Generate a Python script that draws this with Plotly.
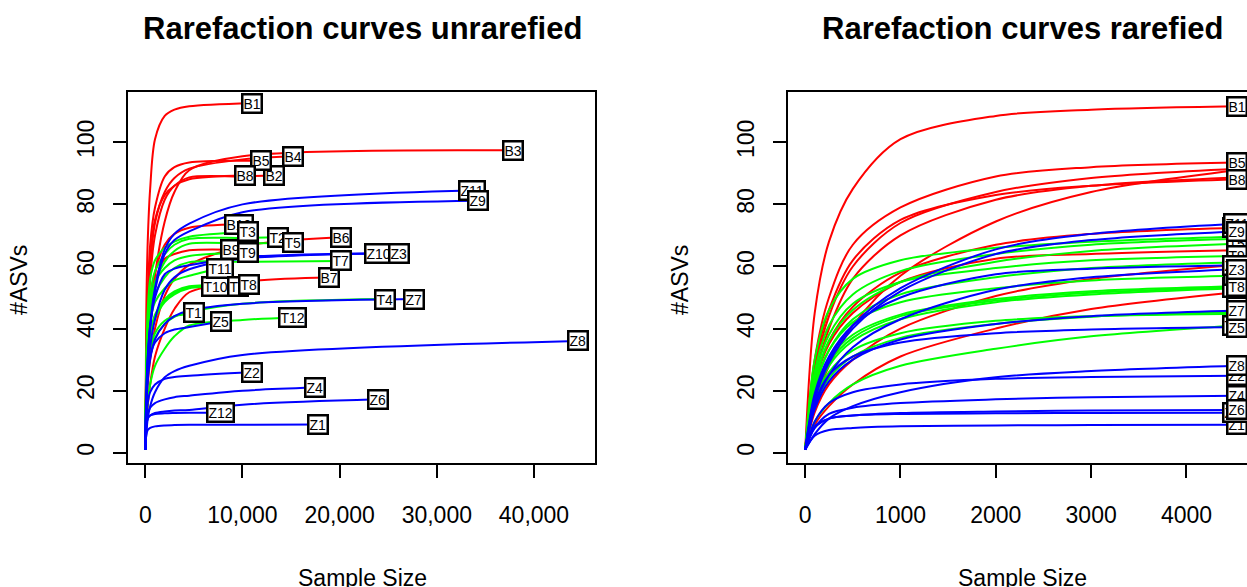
import plotly.graph_objects as go

W, H = 1247, 587

# ---------------- data ----------------
# reads at which the rarefied curves were read off the picture
knot_reads = [1, 100, 250, 500, 1000, 2000, 3000, 4525]
mid_read = 10000
rarefied_depth = 4525

# B samples (red)
b_names = ["B1", "B10", "B2", "B3", "B4", "B5", "B6", "B7", "B8", "B9"]
b_total_reads = [10930, 9690, 13230, 37840, 15190, 11860, 20100, 18870, 10210, 8830]
b_total_asvs = [112.6, 73.6, 89.3, 97.4, 95.5, 94.0, 69.4, 56.5, 89.3, 65.4]
b_asvs_10k = [None, None, 89.0, 95.5, 94.5, None, 66.5, 55.0, None, None]
b_curves = [
    [1, 45, 68, 85, 101, 108.5, 110.5, 111.6],
    [1, 22, 36, 47, 58, 67, 70.5, 72.5],
    [1, 24, 40, 56, 70, 81.5, 86, 88.7],
    [1, 16, 28, 41, 57, 74.5, 84, 91],
    [1, 26, 44, 60, 74, 84, 88.5, 91.5],
    [1, 30, 50, 67, 79, 89, 92, 93.5],
    [1, 13, 22, 30, 40, 50.5, 56, 60.5],
    [1, 9, 15, 22, 31, 40, 46.3, 51.7],
    [1, 28, 46, 62, 75, 83, 86, 88.1],
    [1, 22, 35, 45, 55, 62.5, 64, 65.2],
]

# T samples (green)
t_names = ["T1", "T10", "T11", "T12", "T2", "T3", "T4", "T5", "T6", "T7", "T8", "T9"]
t_total_reads = [4980, 7180, 7730, 15190, 13640, 10550, 24640, 15190, 9500, 20170, 10720, 10620]
t_total_asvs = [45.2, 53.5, 59.5, 43.5, 69.4, 71.2, 49.5, 67.6, 53.5, 61.8, 54.1, 64.5]
t_asvs_10k = [None, None, None, 42.8, 69.2, None, 48.0, 67.4, None, 61.5, None, None]
t_curves = [
    [1, 17, 26, 33, 38.5, 42.5, 44, 44.8],
    [1, 18, 29, 37, 44, 49, 51.5, 53.3],
    [1, 21, 33, 42, 48.5, 53, 55.5, 57],
    [1, 10, 16, 22, 28, 33.5, 37.5, 41],
    [1, 26, 41, 51, 58.5, 64, 67, 68.9],
    [1, 30, 46, 56, 62, 66, 68, 69.6],
    [1, 15, 24, 31, 37, 41.5, 43.8, 45.3],
    [1, 22, 36, 46, 55, 61.5, 65, 67.3],
    [1, 17, 28, 36, 43, 48.5, 51, 53],
    [1, 20, 33, 43, 51, 56.5, 59.5, 61.4],
    [1, 19, 30, 38, 44.5, 49.5, 52, 53.6],
    [1, 24, 38, 48, 55, 59.5, 62, 63.4],
]

# Z samples (blue)
z_names = ["Z1", "Z10", "Z11", "Z12", "Z2", "Z3", "Z4", "Z5", "Z6", "Z7", "Z8", "Z9"]
z_total_reads = [17760, 23950, 33600, 7730, 11000, 26120, 17420, 7800, 23950, 27660, 44500, 34190]
z_total_asvs = [9.1, 64.3, 84.5, 12.9, 26.0, 64.3, 21.0, 42.3, 17.2, 49.5, 36.0, 81.2]
z_asvs_10k = [9.05, 63.0, 80.0, None, None, 62.5, 20.0, None, 15.5, 48.0, 31.5, 77.5]
z_curves = [
    [1, 5.5, 7.3, 8, 8.5, 8.8, 8.9, 9.0],
    [1, 19, 31, 41, 50, 57.5, 59.3, 60.4],
    [1, 18, 30, 41, 53, 65.5, 70.5, 73.8],
    [1, 8.5, 11, 12, 12.5, 12.7, 12.8, 12.9],
    [1, 10, 16, 19.5, 22, 23.8, 24.4, 24.8],
    [1, 15, 25, 34, 43, 52.5, 56.5, 59.1],
    [1, 8, 12.5, 14.5, 16, 17.2, 17.9, 18.4],
    [1, 16, 25, 31, 35.5, 38.5, 39.7, 40.5],
    [1, 8, 11, 12, 12.8, 13.3, 13.6, 13.8],
    [1, 14, 23, 30, 36.5, 41.5, 44, 45.8],
    [1, 6, 11, 15, 19.5, 24.3, 26.3, 28],
    [1, 17, 29, 40, 52, 64, 68.5, 71.3],
]

x_tick_vals_left = [0, 10000, 20000, 30000, 40000]
x_tick_text_left = ["0", "10,000", "20,000", "30,000", "40,000"]
x_tick_vals_right = [0, 1000, 2000, 3000, 4000]
y_tick_vals = [0, 20, 40, 60, 80, 100]

titles = ["Rarefaction curves unrarefied", "Rarefaction curves rarefied"]

# ---------------- styling ----------------
RED, GREEN, BLUE = "#FF0000", "#00FF00", "#0000FF"
FONT = "Liberation Sans, Arial, sans-serif"

groups = [
    (b_names, b_total_reads, b_total_asvs, b_asvs_10k, b_curves, RED),
    (t_names, t_total_reads, t_total_asvs, t_asvs_10k, t_curves, GREEN),
    (z_names, z_total_reads, z_total_asvs, z_asvs_10k, z_curves, BLUE),
]

fig = go.Figure()
left_labels, right_labels = [], []

for names, reads, asvs, a10k, curves, col in groups:
    for i, nm in enumerate(names):
        xs = list(knot_reads)
        ys = list(curves[i])
        if a10k[i] is not None:
            xs.append(mid_read)
            ys.append(a10k[i])
        xs.append(reads[i])
        ys.append(asvs[i])
        fig.add_trace(go.Scatter(
            x=xs, y=ys, mode="lines", xaxis="x", yaxis="y",
            line=dict(color=col, width=2, shape="spline", smoothing=0.9),
            showlegend=False, hoverinfo="skip"))
        fig.add_trace(go.Scatter(
            x=knot_reads, y=curves[i], mode="lines", xaxis="x2", yaxis="y2",
            line=dict(color=col, width=2, shape="spline", smoothing=0.9),
            showlegend=False, hoverinfo="skip"))
        left_labels.append((nm, reads[i], asvs[i]))
        right_labels.append((nm, rarefied_depth, curves[i][-1]))

label_style = dict(showarrow=False, font=dict(family=FONT, size=14, color="black"),
                   bgcolor="white", bordercolor="black", borderwidth=2.5,
                   borderpad=0, xanchor="center", yanchor="middle")
annotations = []
for nm, x, y in left_labels:
    annotations.append(dict(x=x, y=y, xref="x", yref="y", text=nm, **label_style))
for nm, x, y in right_labels:
    annotations.append(dict(x=x, y=y, xref="x2", yref="y2", text=nm, **label_style))

def px(x):
    return x / W

def py(y):
    return 1 - y / H

for t, cx in zip(titles, [362, 1022]):
    annotations.append(dict(x=px(cx), y=py(28), xref="paper", yref="paper",
                            text="<b>" + t + "</b>", showarrow=False,
                            font=dict(family=FONT, size=31, color="black"),
                            xanchor="center", yanchor="middle"))
for cx in [362, 1022]:
    annotations.append(dict(x=px(cx), y=py(578), xref="paper", yref="paper",
                            text="Sample Size", showarrow=False,
                            font=dict(family=FONT, size=23, color="black"),
                            xanchor="center", yanchor="middle"))
for cx in [19, 680]:
    annotations.append(dict(x=px(cx), y=py(280), xref="paper", yref="paper",
                            text="#ASVs", showarrow=False, textangle=-90,
                            font=dict(family=FONT, size=23, color="black"),
                            xanchor="center", yanchor="middle"))

box_top, box_bot = 92, 463
ydom = [py(box_bot), py(box_top)]
yrange = [-3.3, 116.2]

common_x = dict(showgrid=False, zeroline=False, showline=True, linecolor="black",
                linewidth=2, ticks="outside", ticklen=13, tickwidth=2, tickcolor="black",
                tickfont=dict(family=FONT, size=23, color="black"), ticklabelstandoff=17)
common_y = dict(showgrid=False, zeroline=False, showline=True, linecolor="black",
                linewidth=2, ticks="outside", ticklen=13, tickwidth=2, tickcolor="black",
                tickfont=dict(family=FONT, size=23, color="black"), tickangle=-90,
                ticklabelstandoff=10, range=yrange, domain=ydom, tickvals=y_tick_vals)

fig.update_layout(
    width=W, height=H,
    margin=dict(l=0, r=0, t=0, b=0),
    paper_bgcolor="white", plot_bgcolor="white",
    xaxis=dict(domain=[px(128), px(595)], range=[-1779, 46280], anchor="y",
               tickvals=x_tick_vals_left, ticktext=x_tick_text_left, mirror=True, **common_x),
    yaxis=dict(anchor="x", mirror=True, **common_y),
    xaxis2=dict(domain=[px(788), 1.0], range=[-180, 4635], anchor="y2",
                tickvals=x_tick_vals_right, mirror=True, **common_x),
    yaxis2=dict(anchor="x2", mirror=False, **common_y),
    annotations=annotations,
)

fig.write_html("out.html", config={"displayModeBar": False},
               post_script="document.body.style.margin='0';document.body.style.overflow='hidden';")
